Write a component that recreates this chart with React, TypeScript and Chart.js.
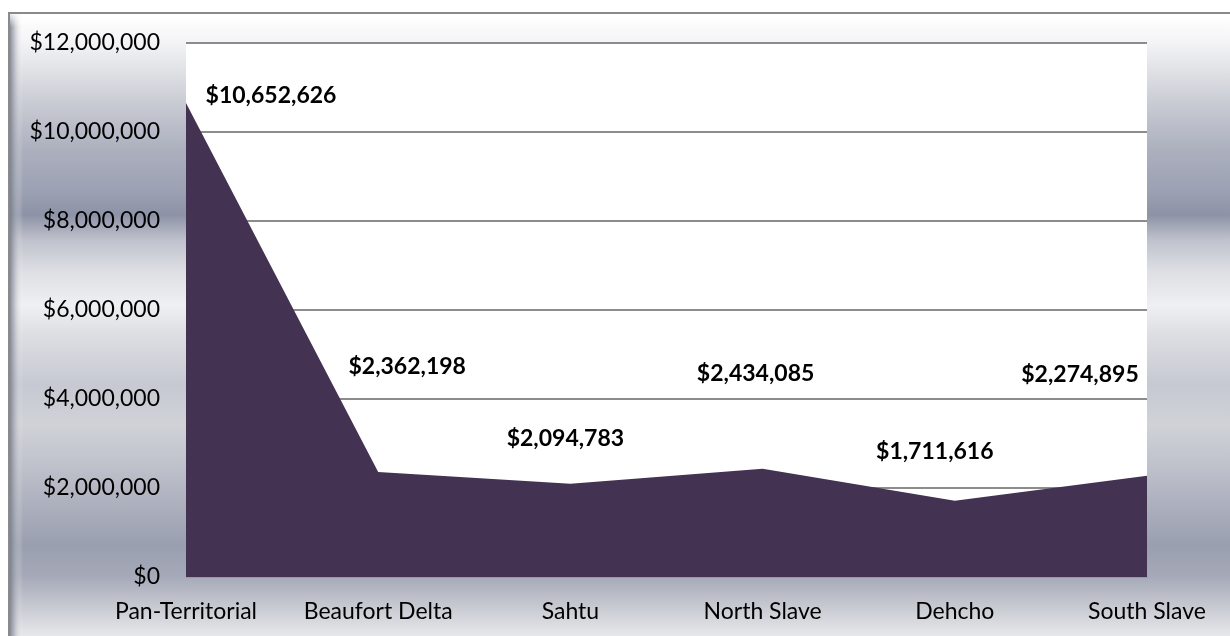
import React, { useEffect, useRef } from "react";
import { Chart, registerables } from "chart.js";

Chart.register(...registerables);

const regions = ["Pan-Territorial", "Beaufort Delta", "Sahtu", "North Slave", "Dehcho", "South Slave"];
const funding = [10652626, 2362198, 2094783, 2434085, 1711616, 2274895];
const yTickValues = [0, 2000000, 4000000, 6000000, 8000000, 10000000, 12000000];

const fmt = (v: number) => "$" + Math.round(v).toLocaleString("en-US");

// label placement (offset from the point, in px) — styling only
const LABEL_OFFSETS: [number, number][] = [
  [85, -7],
  [29, -105],
  [-5, -45],
  [-7, -95],
  [-20, -49],
  [-67, -101],
];

const FONT = "Lato, 'Open Sans', sans-serif";

const framePlugin = {
  id: "frame",
  beforeDraw(chart: any) {
    const { ctx, width, height, chartArea } = chart;
    ctx.save();
    ctx.fillStyle = "#ffffff";
    ctx.fillRect(0, 0, width, height);
    const x0 = 9, y0 = 13;
    const g = ctx.createLinearGradient(0, y0, 0, height);
    const stops: [number, string][] = [
      [13, "#ffffff"],
      [40, "#f5f5f7"],
      [70, "#e0e2e6"],
      [105, "#c8cad3"],
      [150, "#acb0be"],
      [190, "#9ca1b3"],
      [215, "#8d92a6"],
      [240, "#bfc2cc"],
      [270, "#dcdee3"],
      [305, "#eff0f2"],
      [335, "#dcdee2"],
      [385, "#c6c9d1"],
      [425, "#d0d2d8"],
      [465, "#bfc2cb"],
      [515, "#a8acba"],
      [545, "#9a9fb0"],
      [575, "#a4a8b7"],
      [610, "#cbcdd4"],
      [636, "#e7e8eb"],
    ];
    for (const [y, c] of stops) g.addColorStop((y - y0) / (height - y0), c);
    ctx.fillStyle = g;
    ctx.fillRect(x0, y0, width - x0, height - y0);
    // left bevel
    const lg = ctx.createLinearGradient(x0, 0, x0 + 14, 0);
    lg.addColorStop(0, "rgba(110,114,125,0.9)");
    lg.addColorStop(0.35, "rgba(150,154,165,0.6)");
    lg.addColorStop(1, "rgba(255,255,255,0)");
    ctx.fillStyle = lg;
    ctx.fillRect(x0, y0, 14, height - y0);
    // top shine
    const tg = ctx.createLinearGradient(0, y0, 0, y0 + 14);
    tg.addColorStop(0, "rgba(255,255,255,0.9)");
    tg.addColorStop(1, "rgba(255,255,255,0)");
    ctx.fillStyle = tg;
    ctx.fillRect(x0, y0, width - x0, 14);
    // border
    ctx.strokeStyle = "#8a8a8a";
    ctx.lineWidth = 2;
    ctx.beginPath();
    ctx.moveTo(width, y0);
    ctx.lineTo(x0, y0);
    ctx.lineTo(x0, height);
    ctx.stroke();
    // plot area
    ctx.fillStyle = "#ffffff";
    ctx.fillRect(chartArea.left, chartArea.top, chartArea.right - chartArea.left, chartArea.bottom - chartArea.top);
    ctx.restore();
  },
};

const labelPlugin = {
  id: "valueLabels",
  afterDatasetsDraw(chart: any) {
    const { ctx } = chart;
    const meta = chart.getDatasetMeta(0);
    const data = chart.data.datasets[0].data as number[];
    ctx.save();
    ctx.font = `bold 23px ${FONT}`;
    ctx.fillStyle = "#000000";
    ctx.textAlign = "center";
    ctx.textBaseline = "middle";
    meta.data.forEach((pt: any, i: number) => {
      const [dx, dy] = LABEL_OFFSETS[i] || [0, -20];
      ctx.fillText(fmt(data[i]), pt.x + dx, pt.y + dy);
    });
    ctx.restore();
  },
};

export default function App() {
  const ref = useRef<HTMLCanvasElement | null>(null);
  useEffect(() => {
    if (!ref.current) return;
    const chart = new Chart(ref.current, {
      type: "line",
      data: {
        labels: regions,
        datasets: [
          {
            data: funding,
            fill: "origin",
            backgroundColor: "#433252",
            borderColor: "#433252",
            borderWidth: 0,
            pointRadius: 0,
            tension: 0,
          },
        ],
      },
      options: {
        animation: false,
        responsive: false,
        layout: { padding: { left: 10, top: 43, right: 83, bottom: 0 } },
        plugins: { legend: { display: false }, tooltip: { enabled: false } },
        scales: {
          x: {
            offset: false,
            grid: { display: false, drawTicks: false },
            border: { display: true, color: "#9a9a9a", width: 1 },
            ticks: {
              autoSkip: false,
              maxRotation: 0,
              padding: 21,
              color: "#000000",
              font: { family: FONT, size: 23 },
            },
            afterFit: (s: any) => {
              s.height = 59;
            },
          },
          y: {
            min: 0,
            max: 12000000,
            afterBuildTicks: (s: any) => {
              s.ticks = yTickValues.map((v) => ({ value: v }));
            },
            grid: { color: "#8c8c8c", lineWidth: 2, drawTicks: false },
            border: { display: false },
            ticks: {
              padding: 26,
              color: "#000000",
              font: { family: FONT, size: 23 },
              callback: (v: any) => fmt(Number(v)),
            },
            afterFit: (s: any) => {
              s.width = 176;
            },
          },
        },
      },
      plugins: [framePlugin, labelPlugin],
    });
    return () => chart.destroy();
  }, []);
  return (
    <div style={{ position: "fixed", left: 0, top: 0, width: 1230, height: 636 }}>
      <canvas ref={ref} width={1230} height={636} style={{ display: "block" }} />
    </div>
  );
}
